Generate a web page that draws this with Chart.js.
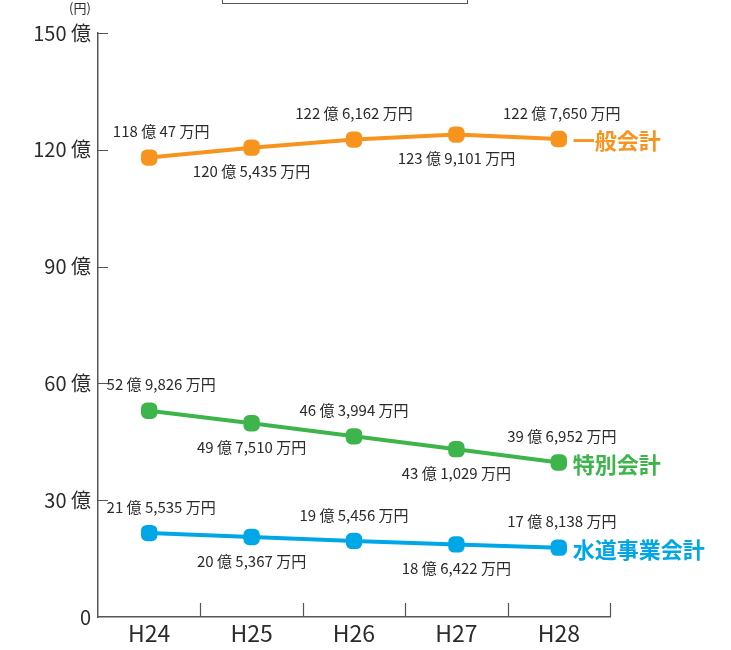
<!DOCTYPE html>
<html lang="ja">
<head>
<meta charset="utf-8">
<script src="https://cdn.jsdelivr.net/npm/chart.js@4/dist/chart.umd.min.js"></script>
<style>
  html, body { margin: 0; padding: 0; background: #fff; }
  #wrap { position: relative; width: 731px; height: 650px; overflow: hidden; }
  #topbox { position: absolute; left: 222px; top: -12px; width: 246px; height: 16px; border: 1px solid #555; box-sizing: border-box; }
  canvas { position: absolute; left: 0; top: 0; }
</style>
</head>
<body>
<div id="wrap">
  <canvas id="c" width="731" height="650"></canvas>
  <div id="topbox"></div>
</div>
<script>
// 年度
const years = ['H24', 'H25', 'H26', 'H27', 'H28'];
// 会計別の金額（万円）
const ippan = [1180047, 1205435, 1226162, 1239101, 1227650];
const tokubetsu = [529826, 497510, 463994, 431029, 396952];
const suido = [215535, 205367, 195456, 186422, 178138];
// 会計名
const seriesNames = ['一般会計', '特別会計', '水道事業会計'];
// 目盛り（億円）
const yTicks = [0, 30, 60, 90, 120, 150];

const colors = ['#F7941E', '#3DB54A', '#00A7E6'];
const FONT = '"Noto Sans CJK JP", "Noto Sans", sans-serif';
const TEXT = '#2b2b2b';
const AXIS = '#555555';

const toOku = arr => arr.map(v => v / 10000);
const fmt = v => {
  const oku = Math.floor(v / 10000);
  const man = v % 10000;
  return oku + ' 億 ' + man.toLocaleString('en-US') + ' 万円';
};

// 値ラベル・会計名・単位・内向き目盛り
const annotate = {
  id: 'annotate',
  afterDatasetsDraw(chart) {
    const ctx = chart.ctx;
    const area = chart.chartArea;
    const xs = chart.scales.x, ys = chart.scales.y;
    ctx.save();

    // 目盛り線
    ctx.strokeStyle = AXIS;
    ctx.lineWidth = 1.2;
    ctx.beginPath();
    yTicks.forEach(t => {
      if (t === 0) return;
      const y = Math.round(ys.getPixelForValue(t)) + 0.5;
      ctx.moveTo(area.left, y);
      ctx.lineTo(area.left + 10, y);
    });
    for (let i = 0; i < years.length; i++) {
      const x = Math.round(xs.getPixelForValue(i) + (xs.getPixelForValue(1) - xs.getPixelForValue(0)) / 2) + 0.5;
      ctx.moveTo(x, area.bottom);
      ctx.lineTo(x, area.bottom - 14);
    }
    ctx.stroke();

    // 値ラベル
    ctx.fillStyle = TEXT;
    ctx.font = '15px ' + FONT;
    ctx.textAlign = 'center';
    ctx.textBaseline = 'middle';
    chart.data.datasets.forEach((ds, di) => {
      const meta = chart.getDatasetMeta(di);
      meta.data.forEach((pt, i) => {
        const above = i % 2 === 0;
        let dx = 0;
        if (i === 0) dx = 12;
        if (i === meta.data.length - 1) dx = 3;
        const dy = above ? -26 : 24;
        ctx.fillText(fmt(ds.raw[i]), pt.x + dx, pt.y + dy);
      });
      // 会計名
      const last = meta.data[meta.data.length - 1];
      ctx.save();
      ctx.fillStyle = colors[di];
      ctx.font = 'bold 22px ' + FONT;
      ctx.textAlign = 'left';
      ctx.fillText(seriesNames[di], last.x + 14, last.y + 2);
      ctx.restore();
    });

    // 単位
    ctx.font = '13px ' + FONT;
    ctx.textAlign = 'center';
    ctx.fillText('(円)', area.left - 18, 8);
    ctx.restore();
  }
};

new Chart(document.getElementById('c'), {
  type: 'line',
  data: {
    labels: years,
    datasets: [ippan, tokubetsu, suido].map((arr, i) => ({
      label: seriesNames[i],
      data: toOku(arr),
      raw: arr,
      borderColor: colors[i],
      backgroundColor: colors[i],
      borderWidth: 4,
      pointStyle: 'rectRounded',
      pointRadius: 7.2,
      pointHoverRadius: 7.2,
      tension: 0,
      fill: false
    }))
  },
  options: {
    responsive: false,
    animation: false,
    events: [],
    layout: { padding: { left: 0, right: 121, top: 33, bottom: 0 } },
    plugins: { legend: { display: false }, tooltip: { enabled: false } },
    scales: {
      x: {
        offset: true,
        grid: { display: false, drawTicks: false },
        border: { display: true, color: AXIS, width: 1.5 },
        ticks: { color: TEXT, font: { family: FONT, size: 23 }, padding: 2 },
        afterFit: s => { s.height = 33; }
      },
      y: {
        min: 0,
        max: 150,
        afterBuildTicks: s => { s.ticks = yTicks.map(v => ({ value: v })); },
        grid: { display: false, drawTicks: false },
        border: { display: true, color: AXIS, width: 1.5 },
        ticks: {
          color: TEXT,
          font: { family: FONT, size: 20 },
          padding: 7,
          callback: v => (v === 0 ? '0' : v + ' 億')
        },
        afterFit: s => { s.width = 98; }
      }
    }
  },
  plugins: [annotate]
});
</script>
</body>
</html>
